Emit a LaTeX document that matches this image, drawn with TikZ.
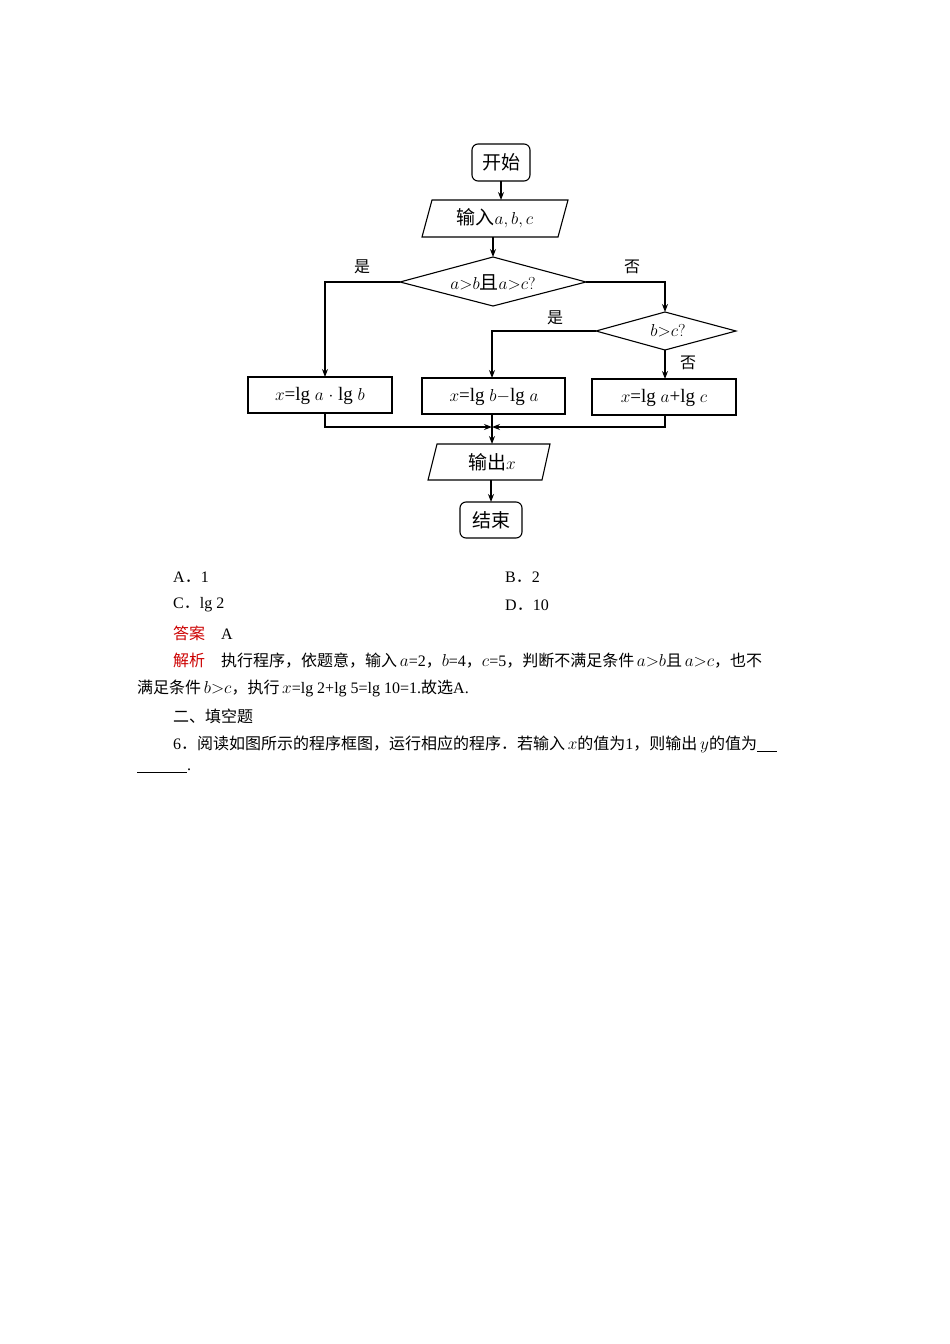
\documentclass[tikz,border=0pt]{standalone}
\usepackage{fontspec}
\setmainfont{Liberation Serif}
\newfontfamily\cjk{Noto Sans CJK SC}
\usetikzlibrary{shapes.geometric,arrows.meta}
\tikzset{
  flow/.style={draw,line width=1.1pt},
  arr/.style={line width=1.1pt,-{Stealth[length=8pt,width=6pt]}},
  term/.style={flow,rounded corners=6pt},
  io/.style={flow},
  proc/.style={flow},
  big/.style={font=\fontsize{19}{19}\selectfont},
  lab/.style={font=\fontsize{16}{16}\selectfont\cjk},
  txt/.style={anchor=west,inner sep=0pt,font=\fontsize{16}{16}\selectfont},
}
\begin{document}
\begin{tikzpicture}[x=1pt,y=-1pt]
\useasboundingbox (0,0) rectangle (950,1344);
% start
\draw[term] (472,144) rectangle (530,181);
\node[big] (start) at (501,162) {\cjk 开始};
\coordinate (s1) at (501,181);
% input
\draw[io] (432,200) -- (568,200) -- (558,237) -- (422,237) -- cycle;
\node[big] (inp) at (495,218) {{\cjk 输入}$a,b,c$};
\coordinate (i1) at (501,200);
\draw[arr] (s1) -- (i1);
\coordinate (i2) at (493,237);
% diamond 1
\draw[flow] (400,282) -- (493,257) -- (586,282) -- (493,306) -- cycle;
\node[big] (d1) at (493,282) {$a{>}b${\cjk 且}$a{>}c?$};
\coordinate (d1t) at (493,257);
\draw[arr] (i2) -- (d1t);
% yes branch
\coordinate (d1l) at (400,282);
\coordinate (b1t) at (325,377);
\draw[arr] (d1l) -- (325,282) -- (b1t);
\node[lab] (y1) at (362,267) {是};
% no branch
\coordinate (d1r) at (586,282);
\coordinate (d2t) at (665,312);
\draw[arr] (d1r) -- (665,282) -- (d2t);
\node[lab] (n1) at (632,267) {否};
% diamond 2
\draw[flow] (596,331) -- (665,312) -- (736,331) -- (665,350) -- cycle;
\node[big] (d2) at (668,331) {$b{>}c?$};
\coordinate (d2l) at (596,331);
\coordinate (b2t) at (492,378);
\draw[arr] (d2l) -- (492,331) -- (b2t);
\node[lab] (y2) at (555,318) {是};
\coordinate (d2b) at (665,350);
\coordinate (b3t) at (665,379);
\draw[arr] (d2b) -- (b3t);
\node[lab] (n2) at (688,363) {否};
% boxes
\draw[proc] (248,377) rectangle (392,413);
\node[big] (b1) at (320,396) {$x$=lg $a$ $\cdot$ lg $b$};
\draw[proc] (422,378) rectangle (565,414);
\node[big] (b2) at (494,397) {$x$=lg $b$$-$lg $a$};
\draw[proc] (592,379) rectangle (736,415);
\node[big] (b3) at (664,398) {$x$=lg $a$+lg $c$};
% merge
\coordinate (m) at (492,427);
\coordinate (m1) at (325,413);
\coordinate (m3) at (665,415);
\coordinate (b2b) at (492,414);
\draw[arr] (m1) -- (325,427) -- (m);
\draw[arr] (m3) -- (665,427) -- (m);
\coordinate (o1) at (492,444);
\draw[arr] (b2b) -- (o1);
% output
\draw[io] (437,444) -- (550,444) -- (542,480) -- (428,480) -- cycle;
\node[big] (out) at (492,462) {{\cjk 输出}$x$};
\coordinate (o2) at (491,480);
\coordinate (e1) at (491,502);
\draw[arr] (o2) -- (e1);
% end
\draw[term] (460,502) rectangle (522,538);
\node[big] (end) at (491,520) {\cjk 结束};
% text
\node[txt] (ta) at (173,577) {A{\cjk ．}1};
\node[txt] (tb) at (505,577) {B{\cjk ．}2};
\node[txt] (tc) at (173,605) {C{\cjk ．}lg 2};
\node[txt] (td) at (505,605) {D{\cjk ．}10};
\node[txt] (ans) at (173,633) {{\cjk\color{red!80!black}答案}\quad A};
\node[txt] (jx) at (173,661) {{\cjk\color{red!80!black}解析}\quad{\cjk 执行程序，依题意，输入}\,$a$=2{\cjk ，}$b$=4{\cjk ，}$c$=5{\cjk ，判断不满足条件}\,$a{>}b${\cjk 且}\,$a{>}c${\cjk ，也不}};
\node[txt] (jx2) at (137,688) {{\cjk 满足条件}\,$b{>}c${\cjk ，执行}\,$x$=lg 2+lg 5=lg 10=1.{\cjk 故选}A.};
\node[txt] (sec) at (173,716) {\cjk 二、填空题};
\node[txt] (q6) at (173,744) {6{\cjk ．阅读如图所示的程序框图，运行相应的程序．若输入}\,$x${\cjk 的值为}1{\cjk ，则输出}\,$y${\cjk 的值为}\rule[-2pt]{20pt}{0.5pt}};
\node[txt] (q6b) at (137,771) {\rule[-2pt]{50pt}{0.5pt}.};
\end{tikzpicture}
\end{document}
